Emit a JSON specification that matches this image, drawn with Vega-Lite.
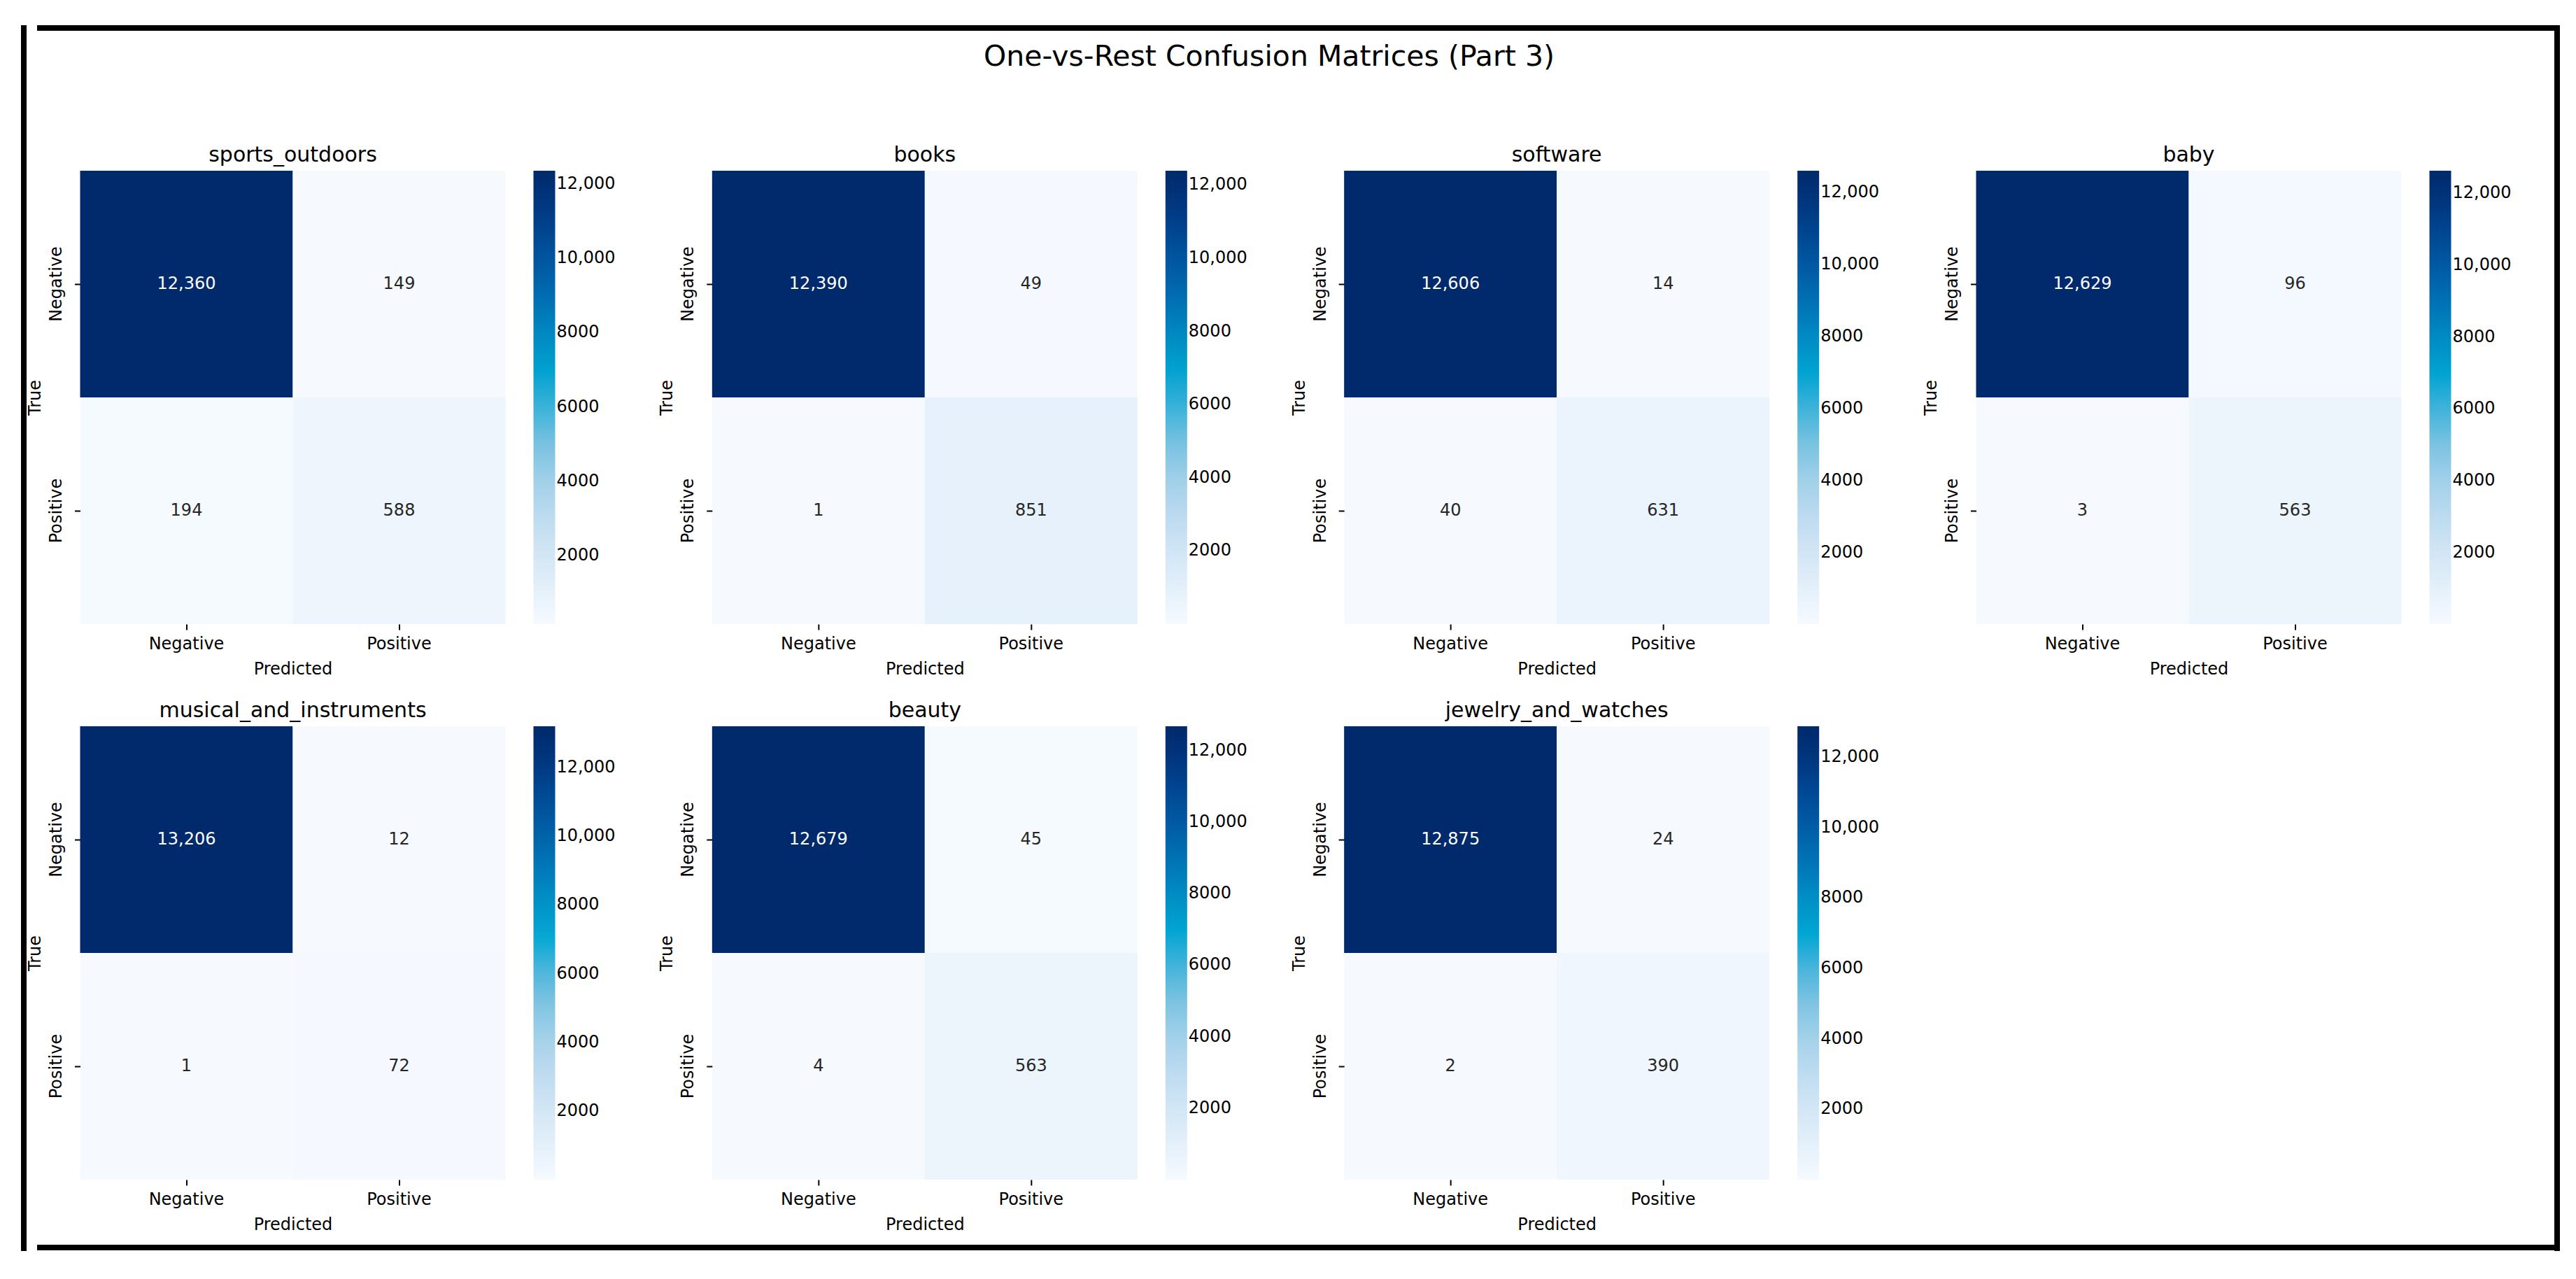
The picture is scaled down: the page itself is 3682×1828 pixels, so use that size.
{
  "$schema": "https://vega.github.io/schema/vega-lite/v6.json",
  "background": "white",
  "padding": {"left": 30, "top": 36, "right": 0, "bottom": 0},
  "datasets": {
    "cm": [
      {"category": "sports_outdoors", "actual": "Negative", "predicted": "Negative", "count": 12360},
      {"category": "sports_outdoors", "actual": "Negative", "predicted": "Positive", "count": 149},
      {"category": "sports_outdoors", "actual": "Positive", "predicted": "Negative", "count": 194},
      {"category": "sports_outdoors", "actual": "Positive", "predicted": "Positive", "count": 588},
      {"category": "books", "actual": "Negative", "predicted": "Negative", "count": 12390},
      {"category": "books", "actual": "Negative", "predicted": "Positive", "count": 49},
      {"category": "books", "actual": "Positive", "predicted": "Negative", "count": 1},
      {"category": "books", "actual": "Positive", "predicted": "Positive", "count": 851},
      {"category": "software", "actual": "Negative", "predicted": "Negative", "count": 12606},
      {"category": "software", "actual": "Negative", "predicted": "Positive", "count": 14},
      {"category": "software", "actual": "Positive", "predicted": "Negative", "count": 40},
      {"category": "software", "actual": "Positive", "predicted": "Positive", "count": 631},
      {"category": "baby", "actual": "Negative", "predicted": "Negative", "count": 12629},
      {"category": "baby", "actual": "Negative", "predicted": "Positive", "count": 96},
      {"category": "baby", "actual": "Positive", "predicted": "Negative", "count": 3},
      {"category": "baby", "actual": "Positive", "predicted": "Positive", "count": 563},
      {"category": "musical_and_instruments", "actual": "Negative", "predicted": "Negative", "count": 13206},
      {"category": "musical_and_instruments", "actual": "Negative", "predicted": "Positive", "count": 12},
      {"category": "musical_and_instruments", "actual": "Positive", "predicted": "Negative", "count": 1},
      {"category": "musical_and_instruments", "actual": "Positive", "predicted": "Positive", "count": 72},
      {"category": "beauty", "actual": "Negative", "predicted": "Negative", "count": 12679},
      {"category": "beauty", "actual": "Negative", "predicted": "Positive", "count": 45},
      {"category": "beauty", "actual": "Positive", "predicted": "Negative", "count": 4},
      {"category": "beauty", "actual": "Positive", "predicted": "Positive", "count": 563},
      {"category": "jewelry_and_watches", "actual": "Negative", "predicted": "Negative", "count": 12875},
      {"category": "jewelry_and_watches", "actual": "Negative", "predicted": "Positive", "count": 24},
      {"category": "jewelry_and_watches", "actual": "Positive", "predicted": "Negative", "count": 2},
      {"category": "jewelry_and_watches", "actual": "Positive", "predicted": "Positive", "count": 390}
    ]
  },
  "spacing": 0,
  "hconcat": [
    {
      "width": 8, "height": 1752,
      "view": {"fill": "black", "stroke": null},
      "data": {"values": []}, "mark": "rect", "encoding": {}
    },
    {
      "spacing": 17,
      "align": {"row": "each", "column": "all"},
      "center": true,
      "vconcat": [
        {
          "width": 3598, "height": 8,
          "view": {"fill": "black", "stroke": null},
          "data": {"values": []}, "mark": "rect", "encoding": {}
        },
        {
          "title": {"text": "\u00a0\u00a0\u00a0\u00a0\u00a0\u00a0One-vs-Rest Confusion Matrices (Part 3)", "fontSize": 41, "offset": 72, "baseline": "alphabetic", "anchor": "middle", "frame": "bounds"},
          "columns": 4,
          "bounds": "flush",
          "spacing": {"row": 146, "column": 295.33},
          "resolve": {"scale": {"color": "independent", "x": "independent", "y": "independent"}, "legend": {"color": "independent"}},
          "concat": [
            {
              "title": "sports_outdoors", "width": 608, "height": 648,
              "data": {"name": "cm"}, "transform": [{"filter": "datum.category === 'sports_outdoors'"}],
              "encoding": {
                "x": {"field": "predicted", "type": "nominal", "scale": {"domain": ["Negative", "Positive"], "paddingInner": 0, "paddingOuter": 0}, "axis": {"title": "Predicted"}},
                "y": {"field": "actual", "type": "nominal", "scale": {"domain": ["Negative", "Positive"], "paddingInner": 0, "paddingOuter": 0}, "axis": {"title": "True"}}
              },
              "layer": [
                {"mark": "rect", "encoding": {"color": {"field": "count", "type": "quantitative", "scale": {"type": "linear", "domain": [149, 12360], "interpolate": "rgb", "range": ["#f6faff","#e4f0fa","#d3e6f5","#bfdcf0","#a6d1ea","#82c5e2","#4db5db","#00a8d4","#0090c6","#0076b8","#005fa8","#004a96","#00367f","#002a6b"]}, "legend": {"title": null, "values": [2000, 4000, 6000, 8000, 10000, 12000], "labelExpr": "datum.value >= 10000 ? format(datum.value, ',') : format(datum.value, 'd')"}}}},
                {"mark": {"type": "text", "fontSize": 24}, "encoding": {"text": {"field": "count", "type": "quantitative", "format": ","}, "color": {"condition": {"test": "datum.count > 5000", "value": "white"}, "value": "#262626"}}}
              ]
            },
            {
              "title": "books", "width": 608, "height": 648,
              "data": {"name": "cm"}, "transform": [{"filter": "datum.category === 'books'"}],
              "encoding": {
                "x": {"field": "predicted", "type": "nominal", "scale": {"domain": ["Negative", "Positive"], "paddingInner": 0, "paddingOuter": 0}, "axis": {"title": "Predicted"}},
                "y": {"field": "actual", "type": "nominal", "scale": {"domain": ["Negative", "Positive"], "paddingInner": 0, "paddingOuter": 0}, "axis": {"title": "True"}}
              },
              "layer": [
                {"mark": "rect", "encoding": {"color": {"field": "count", "type": "quantitative", "scale": {"type": "linear", "domain": [1, 12390], "interpolate": "rgb", "range": ["#f6faff","#e4f0fa","#d3e6f5","#bfdcf0","#a6d1ea","#82c5e2","#4db5db","#00a8d4","#0090c6","#0076b8","#005fa8","#004a96","#00367f","#002a6b"]}, "legend": {"title": null, "values": [2000, 4000, 6000, 8000, 10000, 12000], "labelExpr": "datum.value >= 10000 ? format(datum.value, ',') : format(datum.value, 'd')"}}}},
                {"mark": {"type": "text", "fontSize": 24}, "encoding": {"text": {"field": "count", "type": "quantitative", "format": ","}, "color": {"condition": {"test": "datum.count > 5000", "value": "white"}, "value": "#262626"}}}
              ]
            },
            {
              "title": "software", "width": 608, "height": 648,
              "data": {"name": "cm"}, "transform": [{"filter": "datum.category === 'software'"}],
              "encoding": {
                "x": {"field": "predicted", "type": "nominal", "scale": {"domain": ["Negative", "Positive"], "paddingInner": 0, "paddingOuter": 0}, "axis": {"title": "Predicted"}},
                "y": {"field": "actual", "type": "nominal", "scale": {"domain": ["Negative", "Positive"], "paddingInner": 0, "paddingOuter": 0}, "axis": {"title": "True"}}
              },
              "layer": [
                {"mark": "rect", "encoding": {"color": {"field": "count", "type": "quantitative", "scale": {"type": "linear", "domain": [14, 12606], "interpolate": "rgb", "range": ["#f6faff","#e4f0fa","#d3e6f5","#bfdcf0","#a6d1ea","#82c5e2","#4db5db","#00a8d4","#0090c6","#0076b8","#005fa8","#004a96","#00367f","#002a6b"]}, "legend": {"title": null, "values": [2000, 4000, 6000, 8000, 10000, 12000], "labelExpr": "datum.value >= 10000 ? format(datum.value, ',') : format(datum.value, 'd')"}}}},
                {"mark": {"type": "text", "fontSize": 24}, "encoding": {"text": {"field": "count", "type": "quantitative", "format": ","}, "color": {"condition": {"test": "datum.count > 5000", "value": "white"}, "value": "#262626"}}}
              ]
            },
            {
              "title": "baby", "width": 608, "height": 648,
              "data": {"name": "cm"}, "transform": [{"filter": "datum.category === 'baby'"}],
              "encoding": {
                "x": {"field": "predicted", "type": "nominal", "scale": {"domain": ["Negative", "Positive"], "paddingInner": 0, "paddingOuter": 0}, "axis": {"title": "Predicted"}},
                "y": {"field": "actual", "type": "nominal", "scale": {"domain": ["Negative", "Positive"], "paddingInner": 0, "paddingOuter": 0}, "axis": {"title": "True"}}
              },
              "layer": [
                {"mark": "rect", "encoding": {"color": {"field": "count", "type": "quantitative", "scale": {"type": "linear", "domain": [3, 12629], "interpolate": "rgb", "range": ["#f6faff","#e4f0fa","#d3e6f5","#bfdcf0","#a6d1ea","#82c5e2","#4db5db","#00a8d4","#0090c6","#0076b8","#005fa8","#004a96","#00367f","#002a6b"]}, "legend": {"title": null, "values": [2000, 4000, 6000, 8000, 10000, 12000], "labelExpr": "datum.value >= 10000 ? format(datum.value, ',') : format(datum.value, 'd')"}}}},
                {"mark": {"type": "text", "fontSize": 24}, "encoding": {"text": {"field": "count", "type": "quantitative", "format": ","}, "color": {"condition": {"test": "datum.count > 5000", "value": "white"}, "value": "#262626"}}}
              ]
            },
            {
              "title": "musical_and_instruments", "width": 608, "height": 648,
              "data": {"name": "cm"}, "transform": [{"filter": "datum.category === 'musical_and_instruments'"}],
              "encoding": {
                "x": {"field": "predicted", "type": "nominal", "scale": {"domain": ["Negative", "Positive"], "paddingInner": 0, "paddingOuter": 0}, "axis": {"title": "Predicted"}},
                "y": {"field": "actual", "type": "nominal", "scale": {"domain": ["Negative", "Positive"], "paddingInner": 0, "paddingOuter": 0}, "axis": {"title": "True"}}
              },
              "layer": [
                {"mark": "rect", "encoding": {"color": {"field": "count", "type": "quantitative", "scale": {"type": "linear", "domain": [1, 13206], "interpolate": "rgb", "range": ["#f6faff","#e4f0fa","#d3e6f5","#bfdcf0","#a6d1ea","#82c5e2","#4db5db","#00a8d4","#0090c6","#0076b8","#005fa8","#004a96","#00367f","#002a6b"]}, "legend": {"title": null, "values": [2000, 4000, 6000, 8000, 10000, 12000], "labelExpr": "datum.value >= 10000 ? format(datum.value, ',') : format(datum.value, 'd')"}}}},
                {"mark": {"type": "text", "fontSize": 24}, "encoding": {"text": {"field": "count", "type": "quantitative", "format": ","}, "color": {"condition": {"test": "datum.count > 5000", "value": "white"}, "value": "#262626"}}}
              ]
            },
            {
              "title": "beauty", "width": 608, "height": 648,
              "data": {"name": "cm"}, "transform": [{"filter": "datum.category === 'beauty'"}],
              "encoding": {
                "x": {"field": "predicted", "type": "nominal", "scale": {"domain": ["Negative", "Positive"], "paddingInner": 0, "paddingOuter": 0}, "axis": {"title": "Predicted"}},
                "y": {"field": "actual", "type": "nominal", "scale": {"domain": ["Negative", "Positive"], "paddingInner": 0, "paddingOuter": 0}, "axis": {"title": "True"}}
              },
              "layer": [
                {"mark": "rect", "encoding": {"color": {"field": "count", "type": "quantitative", "scale": {"type": "linear", "domain": [4, 12679], "interpolate": "rgb", "range": ["#f6faff","#e4f0fa","#d3e6f5","#bfdcf0","#a6d1ea","#82c5e2","#4db5db","#00a8d4","#0090c6","#0076b8","#005fa8","#004a96","#00367f","#002a6b"]}, "legend": {"title": null, "values": [2000, 4000, 6000, 8000, 10000, 12000], "labelExpr": "datum.value >= 10000 ? format(datum.value, ',') : format(datum.value, 'd')"}}}},
                {"mark": {"type": "text", "fontSize": 24}, "encoding": {"text": {"field": "count", "type": "quantitative", "format": ","}, "color": {"condition": {"test": "datum.count > 5000", "value": "white"}, "value": "#262626"}}}
              ]
            },
            {
              "title": "jewelry_and_watches", "width": 608, "height": 648,
              "data": {"name": "cm"}, "transform": [{"filter": "datum.category === 'jewelry_and_watches'"}],
              "encoding": {
                "x": {"field": "predicted", "type": "nominal", "scale": {"domain": ["Negative", "Positive"], "paddingInner": 0, "paddingOuter": 0}, "axis": {"title": "Predicted"}},
                "y": {"field": "actual", "type": "nominal", "scale": {"domain": ["Negative", "Positive"], "paddingInner": 0, "paddingOuter": 0}, "axis": {"title": "True"}}
              },
              "layer": [
                {"mark": "rect", "encoding": {"color": {"field": "count", "type": "quantitative", "scale": {"type": "linear", "domain": [2, 12875], "interpolate": "rgb", "range": ["#f6faff","#e4f0fa","#d3e6f5","#bfdcf0","#a6d1ea","#82c5e2","#4db5db","#00a8d4","#0090c6","#0076b8","#005fa8","#004a96","#00367f","#002a6b"]}, "legend": {"title": null, "values": [2000, 4000, 6000, 8000, 10000, 12000], "labelExpr": "datum.value >= 10000 ? format(datum.value, ',') : format(datum.value, 'd')"}}}},
                {"mark": {"type": "text", "fontSize": 24}, "encoding": {"text": {"field": "count", "type": "quantitative", "format": ","}, "color": {"condition": {"test": "datum.count > 5000", "value": "white"}, "value": "#262626"}}}
              ]
            }
          ]
        },
        {
          "width": 3598, "height": 8,
          "view": {"fill": "black", "stroke": null},
          "data": {"values": []}, "mark": "rect", "encoding": {}
        }
      ]
    },
    {
      "width": 8, "height": 1752,
      "view": {"fill": "black", "stroke": null},
      "data": {"values": []}, "mark": "rect", "encoding": {}
    }
  ],
  "config": {
    "font": "DejaVu Sans",
    "view": {"stroke": null},
    "title": {"fontSize": 30, "fontWeight": "normal", "color": "black", "offset": 7, "baseline": "alphabetic", "anchor": "middle"},
    "text": {"font": "DejaVu Sans"},
    "axis": {"labelFontSize": 24, "titleFontSize": 24, "labelColor": "black", "titleColor": "black", "titleFontWeight": "normal", "tickColor": "black", "tickSize": 8, "tickWidth": 2, "labelPadding": 8, "domain": false, "grid": false, "bandPosition": 0.5},
    "axisX": {"labelAngle": 0, "titlePadding": 12},
    "axisY": {"labelAngle": -90, "titlePadding": 6, "labelPadding": 14},
    "legend": {"gradientLength": 648, "gradientThickness": 31, "offset": 40, "labelFontSize": 24, "labelOffset": 32, "labelLimit": 85, "labelColor": "black", "padding": 0, "labelOverlap": false, "gradientStrokeWidth": 0, "direction": "vertical", "orient": "right"}
  }
}
